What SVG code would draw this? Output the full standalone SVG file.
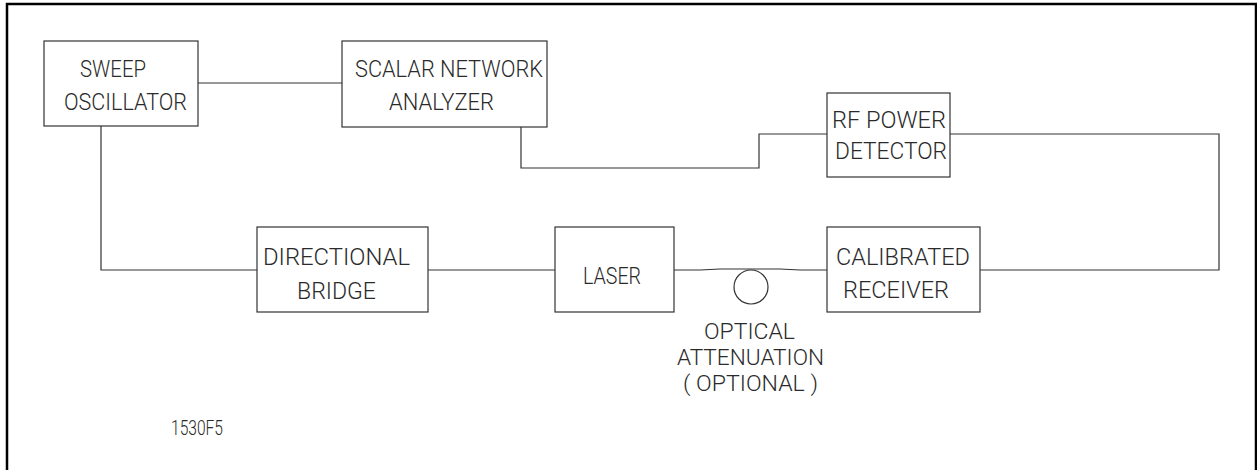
<svg xmlns="http://www.w3.org/2000/svg" width="1257" height="470" viewBox="0 0 1257 470">
<style>
.box{fill:none;stroke:#333;stroke-width:1.2}
.wire{fill:none;stroke:#333;stroke-width:1.2}
.t{font-family:Roboto,"DejaVu Sans",sans-serif;font-weight:300;font-size:24px;fill:#2a2a2a}
.a{font-family:Roboto,"DejaVu Sans",sans-serif;font-weight:300;font-size:22px;fill:#2a2a2a}
.s{font-family:Roboto,"DejaVu Sans",sans-serif;font-weight:300;font-size:20px;fill:#2a2a2a}
</style>
<rect width="1257" height="470" fill="#fff"/>
<path d="M7,475 V4 H1256 V475" fill="none" stroke="#000" stroke-width="2.5"/>
<g id="connectors">
<path class="wire" d="M198,83 H342"/>
<path class="wire" d="M521,127 V168 H759 V134 H827"/>
<path class="wire" d="M950,134 H1219 V270 H980"/>
<path class="wire" d="M101,126 V270 H257"/>
<path class="wire" d="M428,270 H555"/>
<path class="wire" d="M674,270 L700,270 L720,269 L780,269 L800,270 L827,270"/>
</g>
<g id="sweep">
<rect class="box" x="44" y="41" width="154" height="85"/>
<text class="t" x="80" y="77" textLength="66" lengthAdjust="spacingAndGlyphs">SWEEP</text>
<text class="t" x="64" y="110" textLength="123" lengthAdjust="spacingAndGlyphs">OSCILLATOR</text>
</g>
<g id="scalar">
<rect class="box" x="342" y="41" width="205" height="86"/>
<text class="t" x="355" y="77" textLength="188" lengthAdjust="spacingAndGlyphs">SCALAR NETWORK</text>
<text class="t" x="389" y="110" textLength="105" lengthAdjust="spacingAndGlyphs">ANALYZER</text>
</g>
<g id="rfdetector">
<rect class="box" x="827" y="93" width="123" height="84"/>
<text class="t" x="832" y="128" textLength="114" lengthAdjust="spacingAndGlyphs">RF POWER</text>
<text class="t" x="835" y="159" textLength="112" lengthAdjust="spacingAndGlyphs">DETECTOR</text>
</g>
<g id="bridge">
<rect class="box" x="257" y="227" width="171" height="85"/>
<text class="t" x="263" y="265" textLength="147" lengthAdjust="spacingAndGlyphs">DIRECTIONAL</text>
<text class="t" x="297" y="299" textLength="79" lengthAdjust="spacingAndGlyphs">BRIDGE</text>
</g>
<g id="laser">
<rect class="box" x="555" y="227" width="119" height="85"/>
<text class="t" x="583" y="284" textLength="58" lengthAdjust="spacingAndGlyphs">LASER</text>
</g>
<g id="attenuator">
<circle class="box" cx="751" cy="287" r="17"/>
<text class="a" x="704" y="339" textLength="91" lengthAdjust="spacingAndGlyphs">OPTICAL</text>
<text class="a" x="677" y="365" textLength="147" lengthAdjust="spacingAndGlyphs">ATTENUATION</text>
<text class="a" x="683" y="391" textLength="135" lengthAdjust="spacingAndGlyphs">( OPTIONAL )</text>
</g>
<g id="receiver">
<rect class="box" x="827" y="227" width="153" height="85"/>
<text class="t" x="836" y="265" textLength="134" lengthAdjust="spacingAndGlyphs">CALIBRATED</text>
<text class="t" x="843" y="298" textLength="106" lengthAdjust="spacingAndGlyphs">RECEIVER</text>
</g>
<text class="s" x="171" y="435" textLength="52" lengthAdjust="spacingAndGlyphs">1530F5</text>
</svg>
